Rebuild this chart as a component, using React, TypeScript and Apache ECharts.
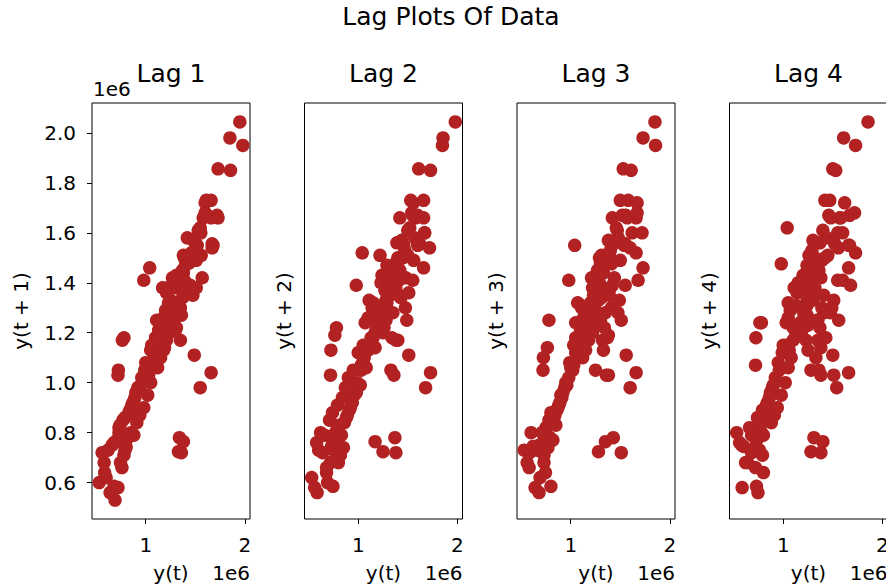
import React, { useEffect, useRef } from "react";
import * as echarts from "echarts";

// Series values in time order, in units of 1e6
const seriesMillions: number[] = [
  0.69, 0.53, 0.6, 0.62, 0.73, 0.8, 0.745, 0.68, 0.585,
  0.64, 0.56, 0.72, 0.58, 0.68, 0.76, 0.66, 0.75, 0.79, 0.73,
  0.82, 0.78, 0.71, 0.77, 0.85, 0.8, 0.74, 0.83, 0.88, 0.79,
  0.86, 0.91, 0.84, 0.89, 0.94, 0.87, 0.92, 0.98, 0.9, 0.96,
  1.02, 0.95, 0.99, 1.05, 1.0, 1.08, 1.12, 1.06, 1.15,
  1.1, 1.18, 1.13, 1.21, 1.17, 1.24, 1.2, 1.27, 1.24,
  1.31, 1.43, 1.37, 1.34, 0.78, 1.18, 1.22, 1.25, 1.24,
  1.2, 1.29, 1.23, 1.32,
  1.4, 1.35, 1.17, 1.38, 0.764, 1.17, 1.19, 1.14, 1.24,
  1.3, 1.21, 1.36, 1.27, 1.42, 1.37,
  1.45, 1.39, 1.5, 1.56, 1.51, 1.49, 1.11, 1.25, 1.33, 1.3,
  1.38, 1.44, 1.48, 1.57, 1.42, 1.58, 1.66, 1.66, 1.73, 1.66,
  1.04, 1.46, 1.52, 1.55, 1.62, 1.67, 1.556, 1.6, 1.72, 1.67,
  1.54, 1.6, 1.68, 1.55, 0.98, 1.41, 1.39, 1.41, 1.476, 1.35, 1.3,
  1.28, 1.28, 1.25, 1.33, 0.724, 1.05, 1.13, 1.1, 1.18,
  1.26, 1.31, 1.22,
  1.38, 1.51, 1.38, 1.36, 0.72, 1.03, 1.03, 1.05, 1.07,
  1.15, 1.24, 1.32, 1.29, 1.4, 1.47, 1.5, 1.53, 1.61, 1.73,
  1.856, 1.85, 1.98, 1.95, 2.044,
];

const lags: number[] = [1, 2, 3, 4];
const panelTitles: string[] = ["Lag 1", "Lag 2", "Lag 3", "Lag 4"];
const yAxisTitles: string[] = ["y(t + 1)", "y(t + 2)", "y(t + 3)", "y(t + 4)"];
const xAxisTitle = "y(t)";
const offsetText = "1e6";
const suptitle = "Lag Plots Of Data";
const xTickValues: number[] = [1, 2];
const yTickValues: number[] = [0.6, 0.8, 1.0, 1.2, 1.4, 1.6, 1.8, 2.0];

const FONT = "DejaVu Sans";
const RED = "#b22222";

export default function App() {
  const ref = useRef<HTMLDivElement>(null);

  useEffect(() => {
    if (!ref.current) return;
    const chart = echarts.init(ref.current, null, { renderer: "svg" });
    const s = seriesMillions;
    const n = s.length;
    const xs = s.slice(0, n - 1);
    const ys = s.slice(1);
    const pad = (lo: number, hi: number) => {
      const m = (hi - lo) * 0.05;
      return [lo - m, hi + m];
    };
    const [xMin, xMax] = pad(Math.min(...xs), Math.max(...xs));
    const [yMin, yMax] = pad(Math.min(...ys), Math.max(...ys));

    const left0 = 92;
    const step = 212.5;
    const top = 103;
    const w = 158;
    const h = 416;

    const grids: any[] = [];
    const xAxes: any[] = [];
    const yAxes: any[] = [];
    const series: any[] = [];
    const graphics: any[] = [];

    lags.forEach((k, i) => {
      const left = left0 + i * step;
      grids.push({
        left,
        top,
        width: w,
        height: h,
        show: true,
        borderColor: "#000",
        borderWidth: 1,
        backgroundColor: "transparent",
        containLabel: false,
      });
      xAxes.push({
        type: "value",
        gridIndex: i,
        min: xMin,
        max: xMax,
        splitLine: { show: false },
        axisLine: { show: false },
        axisTick: {
          show: true,
          inside: false,
          length: 5,
          lineStyle: { color: "#000", width: 1 },
          customValues: xTickValues,
        },
        axisLabel: {
          show: true,
          customValues: xTickValues,
          formatter: (v: number) => String(Math.round(v)),
          fontSize: 20,
          fontFamily: FONT,
          color: "#000",
          margin: 16,
        },
      });
      yAxes.push({
        type: "value",
        gridIndex: i,
        min: yMin,
        max: yMax,
        splitLine: { show: false },
        axisLine: { show: false },
        axisTick: {
          show: i === 0,
          inside: false,
          length: 5,
          lineStyle: { color: "#000", width: 1 },
          customValues: yTickValues,
        },
        axisLabel: {
          show: i === 0,
          customValues: yTickValues,
          formatter: (v: number) => v.toFixed(1),
          fontSize: 20,
          fontFamily: FONT,
          color: "#000",
          margin: 16,
        },
      });
      series.push({
        type: "scatter",
        xAxisIndex: i,
        yAxisIndex: i,
        symbol: "circle",
        symbolSize: 13.5,
        itemStyle: { color: RED, opacity: 1 },
        emphasis: { disabled: true },
        data: s.slice(0, n - k).map((v, j) => [v, s[j + k]]),
      });
      const cx = left + w / 2;
      graphics.push({
        type: "text",
        x: cx,
        y: 73,
        style: {
          text: panelTitles[i],
          font: `25px '${FONT}'`,
          fill: "#000",
          textAlign: "center",
          textVerticalAlign: "middle",
        },
      });
      graphics.push({
        type: "text",
        x: cx,
        y: 573,
        style: {
          text: xAxisTitle,
          font: `20px '${FONT}'`,
          fill: "#000",
          textAlign: "center",
          textVerticalAlign: "middle",
        },
      });
      graphics.push({
        type: "text",
        x: left + w,
        y: 573,
        style: {
          text: offsetText,
          font: `20px '${FONT}'`,
          fill: "#000",
          textAlign: "right",
          textVerticalAlign: "middle",
        },
      });
      graphics.push({
        type: "text",
        x: i === 0 ? 21 : left - 21,
        y: top + h / 2,
        rotation: Math.PI / 2,
        style: {
          text: yAxisTitles[i],
          font: `20px '${FONT}'`,
          fill: "#000",
          textAlign: "center",
          textVerticalAlign: "middle",
        },
      });
    });

    graphics.push({
      type: "text",
      x: 451,
      y: 16,
      style: {
        text: suptitle,
        font: `25px '${FONT}'`,
        fill: "#000",
        textAlign: "center",
        textVerticalAlign: "middle",
      },
    });
    graphics.push({
      type: "text",
      x: 93,
      y: 89,
      style: {
        text: offsetText,
        font: `20px '${FONT}'`,
        fill: "#000",
        textAlign: "left",
        textVerticalAlign: "middle",
      },
    });

    chart.setOption({
      animation: false,
      backgroundColor: "#fff",
      textStyle: { fontFamily: FONT },
      grid: grids,
      xAxis: xAxes,
      yAxis: yAxes,
      series,
      graphic: { elements: graphics },
    });

    return () => {
      chart.dispose();
    };
  }, []);

  return (
    <div
      style={{
        position: "absolute",
        left: 0,
        top: 0,
        width: 886,
        height: 587,
        overflow: "hidden",
        background: "#fff",
      }}
    >
      <div ref={ref} style={{ width: 904, height: 587 }} />
    </div>
  );
}
